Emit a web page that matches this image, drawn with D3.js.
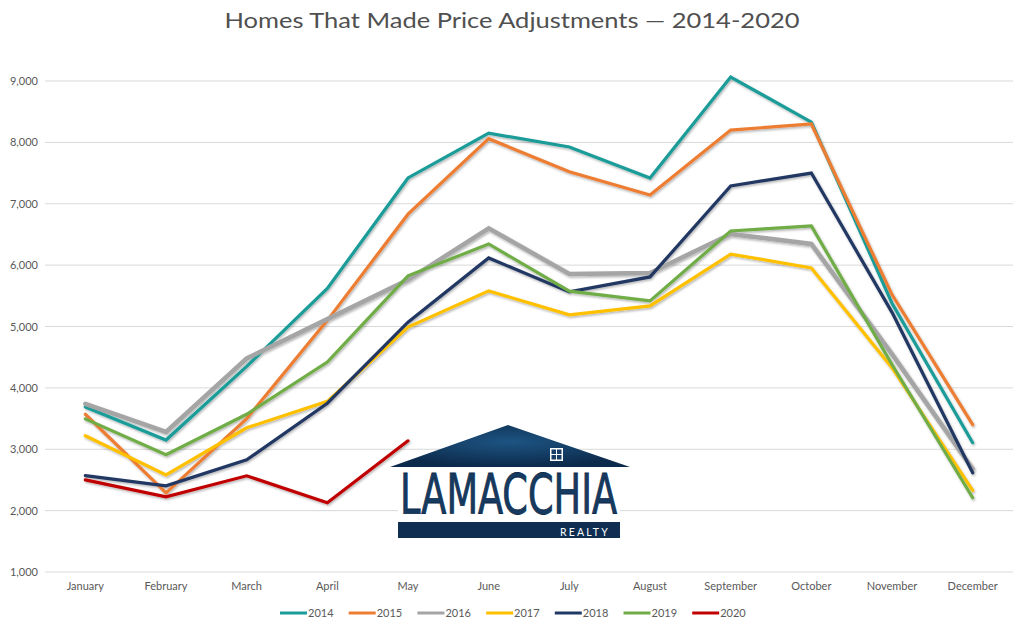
<!DOCTYPE html>
<html><head><meta charset="utf-8">
<script src="https://cdn.jsdelivr.net/npm/d3@7"></script>
<style>html,body{margin:0;padding:0;background:#fff;}svg{display:block;}</style>
</head><body><svg id="c" width="1024" height="626"></svg>
<script>
const months = ["January","February","March","April","May","June","July","August","September","October","November","December"];
const years = ["2014","2015","2016","2017","2018","2019","2020"];
const v2014 = [3690, 3150, 4350, 5620, 7420, 8150, 7925, 7420, 9065, 8330, 5380, 3107];
const v2015 = [3570, 2290, 3500, 5100, 6830, 8060, 7520, 7143, 8200, 8300, 5520, 3400];
const v2016 = [3740, 3283, 4480, 5120, 5760, 6600, 5857, 5873, 6508, 6345, 4550, 2680];
const v2017 = [3220, 2583, 3350, 3780, 4990, 5580, 5190, 5335, 6180, 5955, 4330, 2330];
const v2018 = [2570, 2404, 2827, 3750, 5070, 6117, 5563, 5808, 7290, 7500, 5230, 2616];
const v2019 = [3495, 2910, 3570, 4420, 5825, 6345, 5575, 5417, 6557, 6640, 4380, 2210];
const v2020 = [2500, 2225, 2567, 2127, 3137];
const yTicks = [1000,2000,3000,4000,5000,6000,7000,8000,9000];
const colors = ["#1a9c99","#ed7d31","#a5a5a5","#ffc000","#203864","#70ad47","#c00000"];
const series = [v2014,v2015,v2016,v2017,v2018,v2019,v2020];

const svg = d3.select("#c");
const font = "Lato, 'Open Sans', sans-serif";
const x = d3.scaleBand().domain(months).range([45,1013]);
const y = d3.scaleLinear().domain([1000,9000]).range([572,81]);

const defs = svg.append("defs");
const f = defs.append("filter").attr("id","sh").attr("x","-10%").attr("y","-10%").attr("width","120%").attr("height","120%");
f.append("feDropShadow").attr("dx",1).attr("dy",1.5).attr("stdDeviation",1.2).attr("flood-color","#000").attr("flood-opacity",0.3);
const g1 = defs.append("radialGradient").attr("id","lg").attr("cx","50%").attr("cy","40%").attr("r","60%");
g1.append("stop").attr("offset","0%").attr("stop-color","#1d5482");
g1.append("stop").attr("offset","100%").attr("stop-color","#0c2a4b");

// title
svg.append("text").attr("x",512).attr("y",28).attr("text-anchor","middle")
  .attr("font-family",font).attr("font-size",21).attr("fill","#505050")
  .attr("textLength",575).attr("lengthAdjust","spacingAndGlyphs")
  .text("Homes That Made Price Adjustments — 2014-2020");

// grid
svg.append("g").selectAll("line").data(yTicks).join("line")
  .attr("x1",45).attr("x2",1013).attr("y1",d=>y(d)).attr("y2",d=>y(d))
  .attr("stroke","#d9d9d9").attr("stroke-width",1);

// y axis
const ya = svg.append("g").attr("transform","translate(38,0)")
  .call(d3.axisLeft(y).tickValues(yTicks).tickFormat(d3.format(",")).tickSize(0).tickPadding(0));
ya.select(".domain").remove();
ya.selectAll("text").attr("font-family",font).attr("font-size",11).attr("fill","#595959");

// x axis
const xa = svg.append("g").attr("transform","translate(0,582)")
  .call(d3.axisBottom(x).tickSize(0).tickPadding(0));
xa.select(".domain").remove();
xa.selectAll("text").attr("font-family",font).attr("font-size",11).attr("fill","#595959");

// logo
const logo = svg.append("g");
logo.append("path").attr("d",`M390,467 L508,425 L630,467 Z`).attr("fill","url(#lg)");
logo.append("rect").attr("x",550).attr("y",448).attr("width",13).attr("height",13).attr("fill","#fff");
[[551.5,449.5],[557,449.5],[551.5,455],[557,455]].forEach(p=>
  logo.append("rect").attr("x",p[0]).attr("y",p[1]).attr("width",4.5).attr("height",4.5).attr("fill","#173e66"));
logo.append("rect").attr("x",398).attr("y",468).attr("width",222).attr("height",52).attr("fill","#fff");
logo.append("text").attr("x",400).attr("y",513).attr("font-family","'Liberation Sans Narrow','DejaVu Sans Condensed','Roboto Condensed',sans-serif")
  .attr("font-size",56).attr("fill","#163a60").attr("textLength",217).attr("lengthAdjust","spacingAndGlyphs")
  .attr("stroke","#0c2a4b").attr("stroke-width",0.8)
  .text("LAMACCHIA");
logo.append("rect").attr("x",398).attr("y",522).attr("width",222).attr("height",16).attr("fill","#0f2e52");
logo.append("text").attr("x",610).attr("y",535.5).attr("text-anchor","end").attr("font-family",font)
  .attr("font-size",10.5).attr("fill","#fff").attr("letter-spacing",2.2).text("REALTY");

// lines
const line = d3.line().x((d,i)=>x(months[i])+x.bandwidth()/2).y(d=>y(d));
const lg = svg.append("g").attr("filter","url(#sh)");
series.forEach((s,i)=>{
  lg.append("path").datum(s).attr("d",line).attr("fill","none")
    .attr("stroke",colors[i]).attr("stroke-width",i===2?4.5:3.2)
    .attr("stroke-linejoin","miter").attr("stroke-linecap","round");
});

// legend
const leg = svg.append("g");
years.forEach((yr,i)=>{
  const lx = 280 + i*68.7;
  leg.append("line").attr("x1",lx).attr("x2",lx+27).attr("y1",613).attr("y2",613)
    .attr("stroke",colors[i]).attr("stroke-width",3);
  leg.append("text").attr("x",lx+28).attr("y",617).attr("font-family",font).attr("font-size",11)
    .attr("fill","#595959").text(yr);
});
</script></body></html>
